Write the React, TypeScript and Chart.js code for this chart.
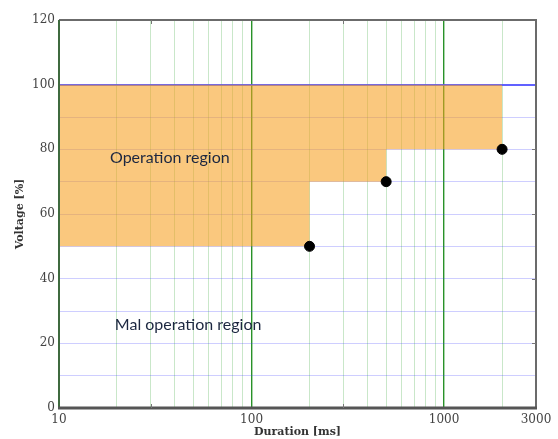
import React, { useEffect, useRef } from "react";
import { Chart, registerables } from "chart.js";

Chart.register(...registerables);

// Ride-through limit: points where the permitted voltage steps up
const limitDurations = [200, 500, 2000]; // ms
const limitVoltages = [50, 70, 80]; // %
const regionStart = 10; // ms
const upperVoltage = 100; // %

// Axis ticks
const xGridValues = [10, 20, 30, 40, 50, 60, 70, 80, 90, 100, 200, 300, 400, 500, 600, 700, 800, 900, 1000, 2000, 3000];
const xLabelValues = [10, 100, 1000, 3000];
const yGridValues = [0, 10, 20, 30, 40, 50, 60, 70, 80, 90, 100, 110, 120];
const yLabelValues = [0, 20, 40, 60, 80, 100, 120];

const regionLabels = [
  { text: "Operation region", x: 18.4, y: 77.3 },
  { text: "Mal operation region", x: 19.5, y: 25.7 },
];

// Stepped lower boundary of the operation region
function buildBoundary() {
  const pts: { x: number; y: number }[] = [{ x: regionStart, y: limitVoltages[0] }];
  for (let i = 0; i < limitDurations.length; i++) {
    pts.push({ x: limitDurations[i], y: limitVoltages[i] });
    if (i + 1 < limitVoltages.length) pts.push({ x: limitDurations[i], y: limitVoltages[i + 1] });
  }
  return pts;
}

const frameAndText = {
  id: "frameAndText",
  afterDatasetsDraw(chart: any) {
    const { ctx, chartArea: a, scales } = chart;
    const xs = scales.x;
    const ys = scales.y;
    ctx.save();
    // region captions
    ctx.font = "16px Lato";
    ctx.fillStyle = "#1c2740";
    ctx.textBaseline = "middle";
    ctx.textAlign = "left";
    for (const l of regionLabels) {
      ctx.fillText(l.text, xs.getPixelForValue(l.x), ys.getPixelForValue(l.y));
    }
    // frame
    ctx.lineWidth = 2;
    ctx.strokeStyle = "#6b6b6b";
    ctx.beginPath();
    ctx.moveTo(a.left, a.top);
    ctx.lineTo(a.right, a.top);
    ctx.lineTo(a.right, a.bottom);
    ctx.stroke();
    ctx.strokeStyle = "#3f6a3f";
    ctx.beginPath();
    ctx.moveTo(a.left, a.top);
    ctx.lineTo(a.left, a.bottom);
    ctx.stroke();
    ctx.lineWidth = 3;
    ctx.strokeStyle = "#555555";
    ctx.beginPath();
    ctx.moveTo(a.left - 1, a.bottom);
    ctx.lineTo(a.right + 1, a.bottom);
    ctx.stroke();
    // small inner tick marks
    ctx.lineWidth = 1;
    ctx.strokeStyle = "#777";
    for (const v of [30, 300]) {
      const px = Math.round(xs.getPixelForValue(v)) + 0.5;
      ctx.beginPath();
      ctx.moveTo(px, a.top);
      ctx.lineTo(px, a.top + 4);
      ctx.moveTo(px, a.bottom);
      ctx.lineTo(px, a.bottom - 4);
      ctx.stroke();
    }
    for (const v of [20, 40, 60, 80]) {
      const py = Math.round(ys.getPixelForValue(v)) + 0.5;
      ctx.beginPath();
      ctx.moveTo(a.right, py);
      ctx.lineTo(a.right - 4, py);
      ctx.stroke();
    }
    // axis titles
    ctx.fillStyle = "#333";
    ctx.font = "bold 11px 'DejaVu Serif'";
    ctx.textAlign = "center";
    ctx.textBaseline = "middle";
    ctx.fillText("Duration [ms]", (a.left + a.right) / 2, 432);
    ctx.translate(20, (a.top + a.bottom) / 2);
    ctx.rotate(-Math.PI / 2);
    ctx.fillText("Voltage [%]", 0, 0);
    ctx.restore();
  },
};

export default function App() {
  const ref = useRef<HTMLCanvasElement>(null);

  useEffect(() => {
    if (!ref.current) return;
    const chart = new Chart(ref.current, {
      type: "scatter",
      data: {
        datasets: [
          {
            type: "line",
            data: buildBoundary(),
            borderWidth: 0,
            pointRadius: 0,
            fill: { value: upperVoltage },
            backgroundColor: "rgba(246,160,32,0.58)",
            order: 2,
          } as any,
          {
            data: limitDurations.map((d, i) => ({ x: d, y: limitVoltages[i] })),
            pointRadius: 5,
            pointBackgroundColor: "#000",
            pointBorderColor: "#000",
            order: 1,
          },
        ],
      },
      options: {
        animation: false,
        responsive: false,
        layout: { padding: { top: 20, right: 22, left: 0, bottom: 0 } },
        plugins: { legend: { display: false }, tooltip: { enabled: false } },
        scales: {
          x: {
            type: "logarithmic",
            min: 10,
            max: 3000,
            afterBuildTicks: (s: any) => {
              s.ticks = xGridValues.map((v) => ({ value: v }));
            },
            afterFit: (s: any) => {
              s.height = 31;
              s.paddingLeft = 0;
              s.paddingRight = 0;
            },
            border: { display: false },
            grid: {
              drawTicks: false,
              color: (c: any) => {
                const v = c.tick?.value;
                if (v === 100 || v === 1000) return "rgba(30,140,30,0.95)";
                if (v === 10 || v === 3000) return "rgba(0,0,0,0)";
                return "rgba(60,170,60,0.28)";
              },
              lineWidth: (c: any) => (c.tick?.value === 100 || c.tick?.value === 1000 ? 1.4 : 1),
            },
            ticks: {
              autoSkip: false,
              maxRotation: 0,
              padding: 5,
              color: "#444",
              font: { family: "'DejaVu Serif'", size: 12 },
              callback: (v: any) => (xLabelValues.includes(Number(v)) ? String(v) : ""),
            },
          },
          y: {
            min: 0,
            max: 120,
            afterBuildTicks: (s: any) => {
              s.ticks = yGridValues.map((v) => ({ value: v }));
            },
            afterFit: (s: any) => {
              s.width = 59;
              s.paddingTop = 0;
              s.paddingBottom = 0;
            },
            border: { display: false },
            grid: {
              drawTicks: false,
              color: (c: any) => {
                const v = c.tick?.value;
                if (v === upperVoltage) return "rgba(80,80,255,0.9)";
                if (v === 0 || v > upperVoltage) return "rgba(0,0,0,0)";
                return "rgba(60,60,255,0.25)";
              },
              lineWidth: (c: any) => (c.tick?.value === upperVoltage ? 2 : 1),
            },
            ticks: {
              autoSkip: false,
              padding: 4,
              color: "#444",
              font: { family: "'DejaVu Serif'", size: 12 },
              callback: (v: any) => (yLabelValues.includes(Number(v)) ? String(v) : ""),
            },
          },
        },
      },
      plugins: [frameAndText],
    } as any);
    return () => chart.destroy();
  }, []);

  return (
    <div style={{ position: "absolute", left: 0, top: 0, width: 558, height: 439, background: "#fff" }}>
      <canvas ref={ref} width={558} height={439} style={{ width: 558, height: 439 }} />
    </div>
  );
}
